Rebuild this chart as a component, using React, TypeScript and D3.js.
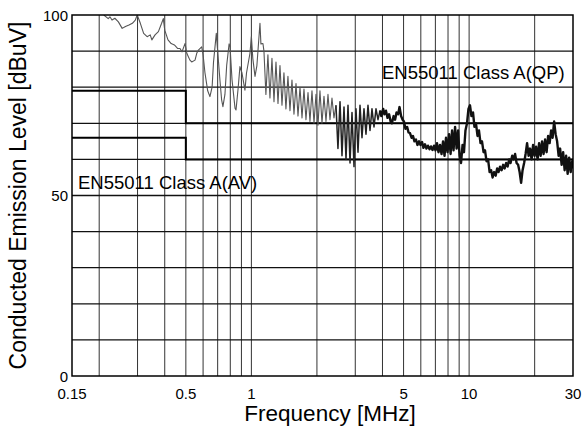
import React from "react";
import * as d3 from "d3";

const W = 584;
const H = 432;

const xTickLabels = [0.15, 0.5, 1, 5, 10, 30];
const yTickLabels = [0, 50, 100];
const xGrid = [0.2, 0.3, 0.4, 0.5, 0.6, 0.7, 0.8, 0.9, 1, 2, 3, 4, 5, 6, 7, 8, 9, 10, 20];
const yGrid = [10, 20, 30, 40, 50, 60, 70, 80, 90];

const limitQP: [number, number][] = [[0.15, 79], [0.5, 79], [0.5, 70], [30, 70]];
const limitAV: [number, number][] = [[0.15, 66], [0.5, 66], [0.5, 60], [30, 60]];

// measured trace, low band (frequency MHz, level dBuV)
const traceFreqA = [
  0.21, 0.22, 0.224, 0.229, 0.236, 0.245, 0.255, 0.264, 0.274, 0.284, 0.293, 0.299,
  0.309, 0.32, 0.332, 0.343, 0.349, 0.361, 0.374, 0.387, 0.394, 0.4, 0.414, 0.428,
  0.443, 0.459, 0.47, 0.48, 0.496, 0.505, 0.522, 0.532, 0.551, 0.561, 0.571, 0.591,
  0.6, 0.612, 0.622, 0.63, 0.645, 0.66, 0.67, 0.69, 0.7, 0.717, 0.73, 0.74, 0.756,
  0.77, 0.79, 0.798, 0.815, 0.841, 0.85, 0.87, 0.886, 0.905, 0.934, 0.95, 0.985,
  1.0, 1.015, 1.039, 1.06, 1.095, 1.106, 1.13,
];
const traceLevelA = [
  100, 99, 99.5, 98.6, 99.1, 98.1, 96.3, 96.8, 97.2, 97.7, 98.6, 100,
  97.7, 94.9, 94, 94.5, 93.1, 94.5, 95.4, 97.7, 99, 95.8, 93.1, 92.1,
  91.7, 90.7, 90.7, 89.8, 92.1, 89.4, 87.5, 87, 87.5, 89.4, 90.3, 91.2,
  89, 84, 81.2, 79, 77.4, 80, 87, 94.9, 90, 82, 76.5, 74.6, 78,
  86, 92, 91.2, 82, 74.2, 73.7, 80, 85.7, 84, 79.2, 84, 89.4,
  94, 88, 83, 86, 97.7, 92, 92.1,
];

// measured trace, mid band (dense ripple)
const traceFreqB = [
  1.142, 1.166, 1.191, 1.217, 1.243, 1.27, 1.297, 1.325, 1.353, 1.382, 1.411, 1.441,
  1.472, 1.504, 1.536, 1.569, 1.603, 1.637, 1.672, 1.708, 1.744, 1.781, 1.82, 1.858,
  1.898, 1.939, 1.98, 2.023, 2.065, 2.11, 2.155, 2.201, 2.248, 2.296, 2.345, 2.395,
  2.446, 2.498, 2.553, 2.607, 2.663, 2.72, 2.778, 2.838, 2.898, 2.96, 3.023, 3.088,
  3.154, 3.221, 3.29, 3.36, 3.432, 3.506, 3.58, 3.657, 3.735, 3.815, 3.897,
];
const traceLevelB = [
  90, 78, 89, 77, 88, 76, 87, 75.5, 86, 75, 84, 74,
  83, 73.5, 82, 72.5, 81, 72, 80, 71.5, 79.5, 71, 78.5, 70.5,
  79, 70, 78, 69.5, 79, 70, 77.5, 70.5, 78, 71, 77, 71.5,
  75, 63, 76, 61, 74.5, 60, 75, 59, 73, 58, 74, 62,
  75, 66, 74, 67, 75, 68, 74, 69, 74, 71, 73.5,
];

// measured trace, high band
const traceFreqC = [
  3.95, 4.03, 4.08, 4.15, 4.22, 4.29, 4.36, 4.42, 4.5, 4.57, 4.64, 4.72, 4.79,
  4.87, 4.95, 5.02, 5.1, 5.19, 5.27, 5.35, 5.44, 5.52, 5.61, 5.7, 5.79, 5.89,
  5.98, 6.08, 6.17, 6.27, 6.37, 6.47, 6.58, 6.68, 6.79, 6.9, 7.01, 7.12, 7.23,
  7.35, 7.47, 7.59, 7.71, 7.83, 7.96, 8.09, 8.22, 8.35, 8.48, 8.62, 8.76, 8.9,
  9.04, 9.18, 9.33, 9.47, 9.62, 9.78, 9.93, 10.09, 10.25, 10.42, 10.58, 10.75,
  10.93, 11.1, 11.28, 11.46, 11.65, 11.83, 12.02, 12.22, 12.42, 12.62, 12.82,
  13.03, 13.24, 13.45, 13.66, 13.87, 14.1, 14.33, 14.56, 14.79, 15.03, 15.27,
  15.5, 15.77, 16.0, 16.26, 16.52, 16.79, 17.06, 17.33, 17.6, 17.89, 18.17,
  18.46, 18.76, 19.05, 19.36, 19.67, 19.98, 20.3, 20.63, 20.96, 21.3, 21.63,
  21.98, 22.33, 22.69, 23.06, 23.43, 23.8, 24.18, 24.57, 24.96, 25.36, 25.77,
  26.18, 26.6, 27.03, 27.46, 27.9, 28.35, 28.8, 29.27, 29.74, 30,
];
const traceLevelC = [
  72, 74, 72.5, 73.5, 71.5, 72.5, 70.5, 70, 72, 71, 73, 72.5, 74.5,
  72, 71, 70.5, 68.5, 69, 67.5, 67.3, 66, 66.5, 65, 65.5, 64, 65,
  64, 64.8, 63.2, 64.2, 63, 63.8, 62.8, 63.6, 62.6, 63.8, 62.5, 64.5, 62,
  64, 61.5, 65, 61, 66, 62, 67, 61.5, 68, 62.5, 69, 63, 68,
  61, 59, 64, 62, 68, 70, 74, 75, 72, 73, 69, 70,
  66.5, 68, 64.5, 65, 62, 62.5, 59.5, 60, 56.5, 57, 55,
  56.5, 55.5, 57.5, 56.5, 58, 57, 58.5, 57.5, 59, 58, 60,
  59, 61, 60, 61.5, 59, 58.5, 56.5, 53.5, 57, 59, 61.5,
  64.5, 61, 63, 60, 64, 61, 63.5, 60, 64.5, 61, 65,
  61.5, 65.5, 62, 66.5, 64.5, 68, 66, 70.5, 67, 65, 61,
  63, 58.5, 62, 57, 61, 56, 60.5, 56.5, 59.5, 57.5,
];

const FONT = "'Liberation Sans', Arial, Helvetica, sans-serif";

export default function App() {
  const left = 72, right = 573, top = 15, bottom = 376;
  const x = d3.scaleLog().domain([0.15, 30]).range([left, right]);
  const y = d3.scaleLinear().domain([0, 100]).range([bottom, top]);

  const line = d3
    .line<[number, number]>()
    .x((d) => x(d[0]))
    .y((d) => y(Math.min(d[1], 100)));

  const zip = (f: number[], v: number[]) => f.map((fr, i) => [fr, v[i]] as [number, number]);
  const partA = zip(traceFreqA, traceLevelA);
  const partB = zip(traceFreqB, traceLevelB);
  const partC = zip(traceFreqC, traceLevelC);
  const splitIdx = partB.findIndex((d) => d[0] >= 2.4);
  const bLight = partB.slice(0, splitIdx + 1);
  const bDark = partB.slice(splitIdx);
  const pathLight = line([...partA, ...bLight]) || "";
  const pathMid = line([...bDark, partC[0]]) || "";
  const pathDark = line([partB[partB.length - 1], ...partC]) || "";

  return (
    <svg
      width={W}
      height={H}
      style={{ position: "absolute", left: 0, top: 0, background: "#fff" }}
      fontFamily={FONT}
    >
      <defs>
        <clipPath id="plotClip">
          <rect x={left} y={top} width={right - left} height={bottom - top} />
        </clipPath>
      </defs>
      {xGrid.map((v) => (
        <line key={"vx" + v} x1={x(v)} x2={x(v)} y1={top} y2={bottom} stroke="#333" strokeWidth={1} />
      ))}
      {yGrid.map((v) => (
        <line key={"hy" + v} x1={left} x2={right} y1={y(v)} y2={y(v)} stroke="#111" strokeWidth={1.3} />
      ))}
      <path d={line(limitQP) || ""} fill="none" stroke="#000" strokeWidth={2} />
      <path d={line(limitAV) || ""} fill="none" stroke="#000" strokeWidth={2} />
      <g clipPath="url(#plotClip)">
        <path d={pathLight} fill="none" stroke="#555" strokeWidth={1.1} strokeLinejoin="round" />
        <path d={pathMid} fill="none" stroke="#222" strokeWidth={1.5} strokeLinejoin="round" />
        <path d={pathDark} fill="none" stroke="#111" strokeWidth={2.4} strokeLinejoin="round" />
      </g>
      <rect x={left} y={top} width={right - left} height={bottom - top} fill="none" stroke="#000" strokeWidth={1.5} />
      {yTickLabels.map((v) => (
        <text key={"yl" + v} x={left - 4} y={y(v) + 5.5} textAnchor="end" fontSize={15} fill="#000">
          {v}
        </text>
      ))}
      {xTickLabels.map((v) => (
        <text key={"xl" + v} x={x(v)} y={399} textAnchor="middle" fontSize={15} fill="#000">
          {v}
        </text>
      ))}
      <text x={382} y={79} fontSize={18.5} fill="#000">EN55011 Class A(QP)</text>
      <text x={78} y={189} fontSize={18.5} fill="#000">EN55011 Class A(AV)</text>
      <text x={330} y={421} textAnchor="middle" fontSize={22.5} fill="#000">
        Frequency [MHz]
      </text>
      <text
        transform={`translate(26, ${(top + bottom) / 2}) rotate(-90)`}
        textAnchor="middle"
        fontSize={23}
        fill="#000"
      >
        Conducted Emission Level [dBuV]
      </text>
    </svg>
  );
}
